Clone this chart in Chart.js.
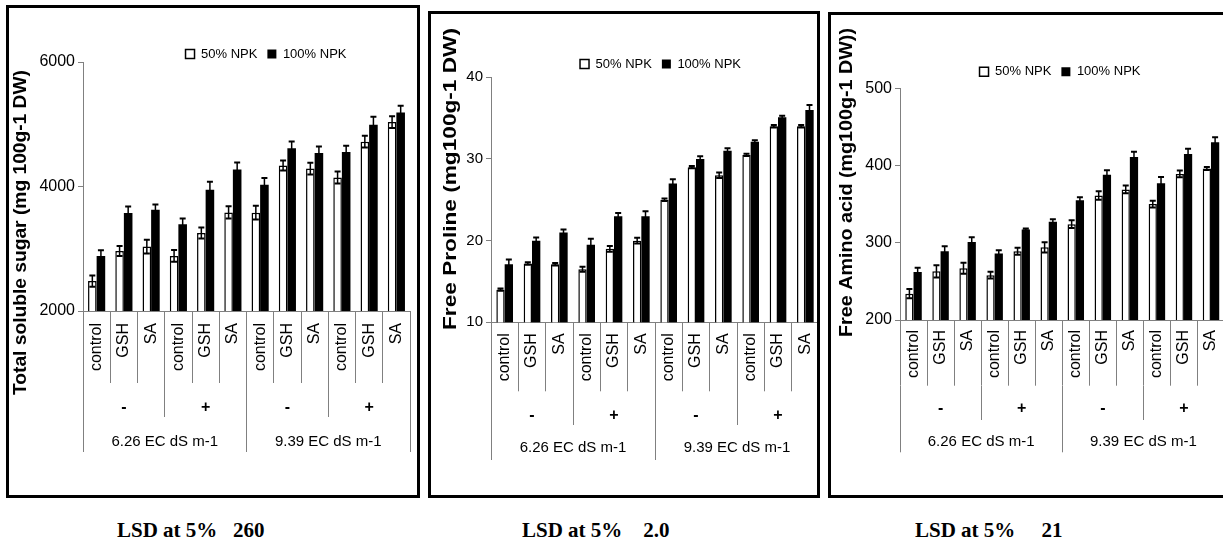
<!DOCTYPE html>
<html>
<head>
<meta charset="utf-8">
<script src="https://cdn.jsdelivr.net/npm/chart.js@4.4.0/dist/chart.umd.min.js"></script>
<style>
  html, body { margin:0; padding:0; background:#fff; width:1223px; height:553px; overflow:hidden; position:relative; }
  canvas { position:absolute; top:0; }
  .box { position:absolute; border:3px solid #000; box-sizing:border-box; pointer-events:none; }
  .lsd { position:absolute; font-family:"Liberation Serif","Times New Roman",serif; font-weight:bold; font-size:21px; line-height:21px; white-space:pre; color:#000; }
</style>
</head>
<body>
<canvas id="c1"></canvas>
<canvas id="c2"></canvas>
<canvas id="c3"></canvas>
<div class="box" style="left:6px;top:5px;width:414px;height:493px;"></div>
<div class="box" style="left:428px;top:11px;width:392px;height:487px;"></div>
<div class="box" style="left:828px;top:12px;width:410px;height:486px;"></div>
<div class="lsd" style="left:117px;top:520px;">LSD at 5%   260</div>
<div class="lsd" style="left:522px;top:520px;">LSD at 5%    2.0</div>
<div class="lsd" style="left:915px;top:520px;">LSD at 5%     21</div>
<script>
// ---------------- data ----------------
const treatments = ['control','GSH','SA','control','GSH','SA','control','GSH','SA','control','GSH','SA'];
const antioxidantGroups = ['-','+','-','+'];
const salinityGroups = ['6.26 EC dS m-1','9.39 EC dS m-1'];
const seriesNames = ['50% NPK','100% NPK'];

const sugarTitle = 'Total soluble sugar (mg 100g-1 DW)';
const sugarTicks = [2000, 4000, 6000];
const sugar50 = [2480, 2965, 3035, 2885, 3253, 3584, 3579, 4336, 4288, 4144, 4720, 5035];
const sugar100 = [2885, 3573, 3627, 3392, 3947, 4272, 4027, 4613, 4539, 4555, 4992, 5189];
const sugar50Err = [90, 80, 110, 95, 90, 100, 110, 80, 95, 95, 95, 95];
const sugar100Err = [90, 105, 85, 95, 130, 115, 110, 110, 105, 100, 130, 110];

const prolineTitle = 'Free Proline (mg100g-1 DW)';
const prolineTicks = [10, 20, 30, 40];
const proline50 = [14, 17.2, 17.1, 16.5, 19, 20, 25, 29, 28, 30.5, 34, 34];
const proline100 = [17.1, 20, 21, 19.5, 23, 23, 27, 30, 31, 32.1, 35.1, 36];
const proline50Err = [0.15, 0.15, 0.15, 0.3, 0.35, 0.35, 0.15, 0.15, 0.33, 0.15, 0.15, 0.15];
const proline100Err = [0.6, 0.37, 0.37, 0.74, 0.37, 0.6, 0.53, 0.33, 0.3, 0.2, 0.2, 0.6];

const aminoTitle = 'Free Amino acid (mg100g-1 DW))';
const aminoTicks = [200, 300, 400, 500];
const amino50 = [234, 263, 267, 258, 289, 294, 324, 361, 369, 350, 389, 396];
const amino100 = [262, 289, 301, 286, 317, 327, 355, 388, 411, 377, 415, 430];
const amino50Err = [6, 8, 7, 4.4, 4.4, 6.6, 5, 5.5, 5, 4.4, 4.4, 2];
const amino100Err = [5.7, 6.6, 6, 4.4, 1.5, 3.5, 4, 5.7, 6.6, 8, 6.6, 6.6];

// ---------------- plugins ----------------
const errorBarPlugin = {
  id: 'errorBars',
  afterDatasetsDraw(chart) {
    const ctx = chart.ctx;
    const yScale = chart.scales.y;
    chart.data.datasets.forEach((ds, di) => {
      if (!ds.errors) return;
      const meta = chart.getDatasetMeta(di);
      meta.data.forEach((bar, i) => {
        const v = ds.data[i], e = ds.errors[i];
        const yTop = yScale.getPixelForValue(v + e);
        const yBot = yScale.getPixelForValue(v - e);
        const x = bar.x;
        const cap = 3;
        ctx.save();
        ctx.strokeStyle = '#000';
        ctx.lineWidth = 1.5;
        ctx.beginPath();
        ctx.moveTo(x, yTop); ctx.lineTo(x, yBot);
        ctx.stroke();
        ctx.lineWidth = 2;
        ctx.beginPath();
        ctx.moveTo(x - cap, yTop); ctx.lineTo(x + cap, yTop);
        ctx.moveTo(x - cap, yBot); ctx.lineTo(x + cap, yBot);
        ctx.stroke();
        ctx.restore();
      });
    });
  }
};

const axisTitlePlugin = {
  id: 'axisTitle',
  afterDraw(chart, args, opts) {
    if (!opts || !opts.text) return;
    const ctx = chart.ctx;
    ctx.save();
    ctx.font = 'bold ' + opts.size + 'px "Liberation Sans", Arial, sans-serif';
    ctx.fillStyle = '#000';
    const w = ctx.measureText(opts.text).width;
    const sx = opts.length / w;
    ctx.translate(opts.cx, opts.cy);
    ctx.rotate(-Math.PI / 2);
    ctx.scale(sx, 1);
    ctx.textAlign = 'center';
    ctx.textBaseline = 'middle';
    ctx.fillText(opts.text, 0, 0);
    ctx.restore();
  }
};

Chart.defaults.font.family = '"Liberation Sans", Arial, sans-serif';
Chart.defaults.color = '#000';

const AXIS_GREY = '#808080';

function makeChart(id, p) {
  const cv = document.getElementById(id);
  cv.width = p.canvasWidth; cv.height = p.canvasHeight;
  cv.style.left = p.canvasLeft + 'px';
  cv.style.width = p.canvasWidth + 'px';
  cv.style.height = p.canvasHeight + 'px';

  const catAxis = (labels, weight, band, pad, font, rotate) => {
    const o = {
      type: 'category', axis: 'x', position: 'bottom', weight: weight, offset: true,
      grid: { display: true, offset: true, drawOnChartArea: false, drawTicks: true, tickLength: band, color: AXIS_GREY, lineWidth: 1 },
      border: { display: weight === 0, color: AXIS_GREY, width: 1 },
      ticks: { autoSkip: false, padding: pad, color: '#000', font: font,
               minRotation: rotate ? 90 : 0, maxRotation: rotate ? 90 : 0 },
      afterFit(s) { s.height = band; }
    };
    if (labels) o.labels = labels;
    return o;
  };

  return new Chart(cv, {
    type: 'bar',
    data: {
      labels: treatments,
      datasets: [
        { label: seriesNames[0], data: p.d50, errors: p.e50, xAxisID: 'x', yAxisID: 'y',
          backgroundColor: '#ffffff', borderColor: '#000000', borderWidth: 1.5,
          categoryPercentage: p.catPct, barPercentage: 1.0 },
        { label: seriesNames[1], data: p.d100, errors: p.e100, xAxisID: 'x', yAxisID: 'y',
          backgroundColor: '#000000', borderColor: '#000000', borderWidth: 0,
          categoryPercentage: p.catPct, barPercentage: 1.0 }
      ]
    },
    options: {
      responsive: false, animation: false, devicePixelRatio: 1,
      layout: { padding: { left: 0, right: 0, top: p.padT, bottom: p.padB } },
      plugins: {
        legend: {
          display: true, position: 'top', fullSize: true, maxHeight: p.legendH,
          labels: { boxWidth: 9, boxHeight: 9, padding: 10, color: '#000', font: { size: 13 } }
        },
        tooltip: { enabled: false },
        axisTitle: { text: p.title, size: p.titleSize, length: p.titleLen, cx: p.titleCx - p.canvasLeft, cy: p.titleCy }
      },
      scales: {
        x: catAxis(null, 0, p.band1, p.pad1, { size: 16 }, true),
        x2: catAxis(antioxidantGroups, 1, p.band2, p.pad2, { size: 16, weight: 'bold' }, false),
        x3: catAxis(salinityGroups, 2, p.band3, p.pad3, { size: 15 }, false),
        y: {
          type: 'linear', axis: 'y', position: 'left', min: p.ticks[0], max: p.ticks[p.ticks.length - 1],
          afterBuildTicks(s) { s.ticks = p.ticks.map(v => ({ value: v })); },
          ticks: { padding: 3, color: '#000', font: { size: p.tickFont }, callback: v => String(v) },
          grid: { display: true, drawOnChartArea: false, drawTicks: true, tickLength: 5, color: AXIS_GREY },
          border: { display: true, color: AXIS_GREY, width: 1 },
          title: { display: false },
          afterFit(s) { s.width = p.yW; }
        },
        yR: {
          type: 'linear', axis: 'y', position: 'right', display: true,
          grid: { display: false }, border: { display: false }, ticks: { display: false },
          afterFit(s) { s.width = p.rightW; }
        }
      }
    },
    plugins: [errorBarPlugin, axisTitlePlugin]
  });
}

makeChart('c1', {
  canvasLeft: 9, canvasWidth: 514, canvasHeight: 494,
  d50: sugar50, d100: sugar100, e50: sugar50Err, e100: sugar100Err, ticks: sugarTicks,
  yW: 74, rightW: 113, padT: 37.5, legendH: 24.5, padB: 42, tickFont: 16,
  band1: 72, band2: 34, band3: 35, pad1: -60, pad2: -19, pad3: -19.5, catPct: 0.63,
  title: sugarTitle, titleSize: 18, titleLen: 325, titleCx: 21.5, titleCy: 232.5
});
makeChart('c2', {
  canvasLeft: 431, canvasWidth: 459, canvasHeight: 494,
  d50: proline50, d100: proline100, e50: proline50Err, e100: proline100Err, ticks: prolineTicks,
  yW: 60, rightW: 71, padT: 47.5, legendH: 29.8, padB: 34, tickFont: 15,
  band1: 69, band2: 33.7, band3: 35, pad1: -58, pad2: -19, pad3: -20.7, catPct: 0.61,
  title: prolineTitle, titleSize: 19, titleLen: 302, titleCx: 451, titleCy: 179
});
makeChart('c3', {
  canvasLeft: 831, canvasWidth: 458, canvasHeight: 494,
  d50: amino50, d100: amino100, e50: amino50Err, e100: amino100Err, ticks: aminoTicks,
  yW: 69, rightW: 64.5, padT: 55.2, legendH: 35.5, padB: 41.7, tickFont: 16,
  band1: 65.7, band2: 34.3, band3: 32.3, pad1: -55.7, pad2: -20.7, pad3: -19.6, catPct: 0.61,
  title: aminoTitle, titleSize: 18, titleLen: 309, titleCx: 847.5, titleCy: 182.5
});
</script>
</body>
</html>
